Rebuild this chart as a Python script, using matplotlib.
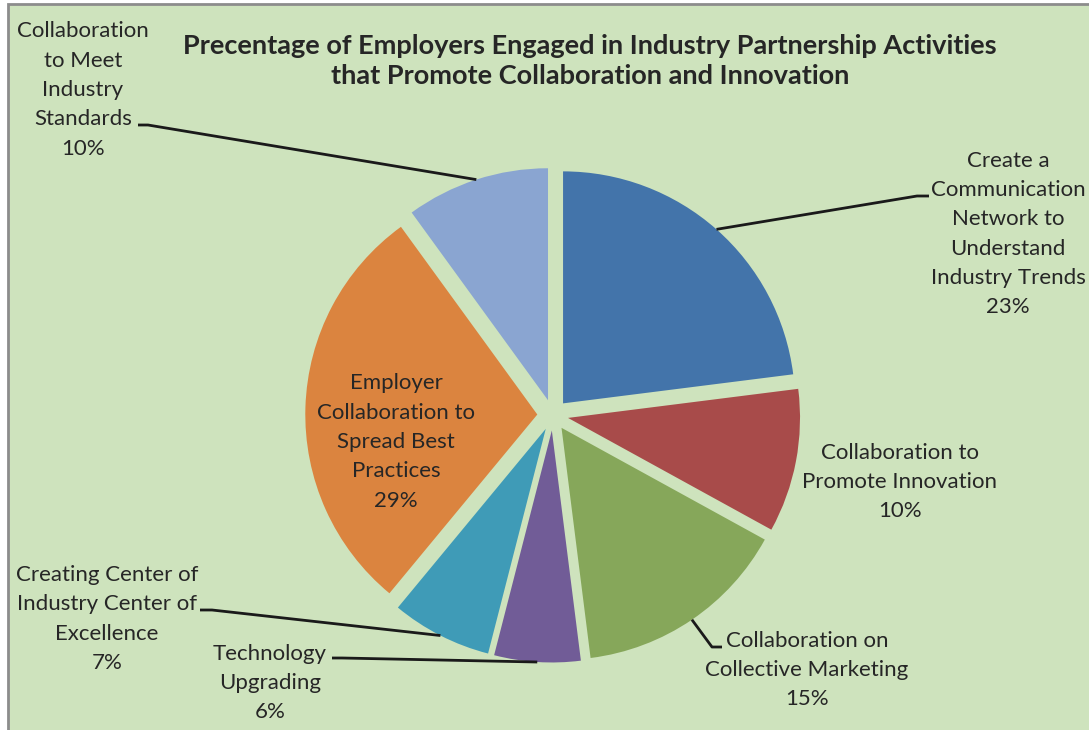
import numpy as np
import matplotlib
matplotlib.use("Agg")
import matplotlib.pyplot as plt
from matplotlib.patches import Rectangle

plt.rcParams['font.family'] = ['Lato', 'DejaVu Sans']

# data
labels = ["Create a\nCommunication\nNetwork to\nUnderstand\nIndustry Trends",
          "Collaboration to\nPromote Innovation",
          "Collaboration on\nCollective Marketing",
          "Technology\nUpgrading",
          "Creating Center of\nIndustry Center of\nExcellence",
          "Employer\nCollaboration to\nSpread Best\nPractices",
          "Collaboration\nto Meet\nIndustry\nStandards"]
shares = [23, 10, 15, 6, 7, 29, 10]
colors = ["#4374AA", "#A84B4A", "#86A75A", "#715C97", "#3F9BB7", "#DB843F", "#8AA5D1"]

title = ("Precentage of Employers Engaged in Industry Partnership Activities\n"
         "that Promote Collaboration and Innovation")

W, H = 1089, 730
bg = "#CEE3BD"

fig = plt.figure(figsize=(W / 100, H / 100), dpi=100)
fig.patch.set_facecolor("white")
ax = fig.add_axes([0, 0, 1, 1])

# chart area with grey frame on top/left (rest cropped)
ax.add_patch(Rectangle((8, -10), W + 20, H - 4 + 10, facecolor=bg,
                       edgecolor="#8C8C8C", linewidth=2, zorder=0))

cx, cy = 552.8, H - 415
R = 232
expl = 15.5
wedges, _ = ax.pie(shares, colors=colors, startangle=90, counterclock=False,
                   center=(cx, cy), radius=R, explode=[expl] * len(shares),
                   wedgeprops=dict(linewidth=0), frame=True)
ax.set_xlim(0, W)
ax.set_ylim(0, H)
ax.set_aspect("auto")
ax.axis("off")


def anchor(i):
    w = wedges[i]
    tm = np.deg2rad((w.theta1 + w.theta2) / 2)
    x0, y0 = w.center
    return x0 + w.r * np.cos(tm), y0 + w.r * np.sin(tm)


fs = 16
lbl = dict(ha="center", va="center", fontsize=fs, color="#262626", linespacing=1.58)

# text positions (pixels from top-left)
pos = [(1008, 234), (900, 482), (807, 670), (270, 683), (107, 619), (396, 442), (83, 90)]
for i, (lab, val) in enumerate(zip(labels, shares)):
    x, y = pos[i]
    ax.text(x, H - y, f"{lab}\n{val}%", **lbl)

# leader lines: (label end, elbow)
leaders = {0: [(929, 196), (917, 196)],
           2: [(722, 647), (712, 647)],
           3: [(332, 658), (342, 658)],
           4: [(200, 610), (212, 610)],
           6: [(138, 125), (148, 125)]}
for i, pts in leaders.items():
    ax_, ay_ = anchor(i)
    xs = [p[0] for p in pts] + [ax_]
    ys = [H - p[1] for p in pts] + [ay_]
    ax.plot(xs, ys, color="#1A1A1A", linewidth=2, solid_capstyle="butt", zorder=3)

ax.text(590, H - 61, title, ha="center", va="center", fontsize=19.5,
        fontweight="bold", color="#262626", linespacing=1.3)

fig.savefig("out.png", dpi=100, facecolor=fig.get_facecolor())
